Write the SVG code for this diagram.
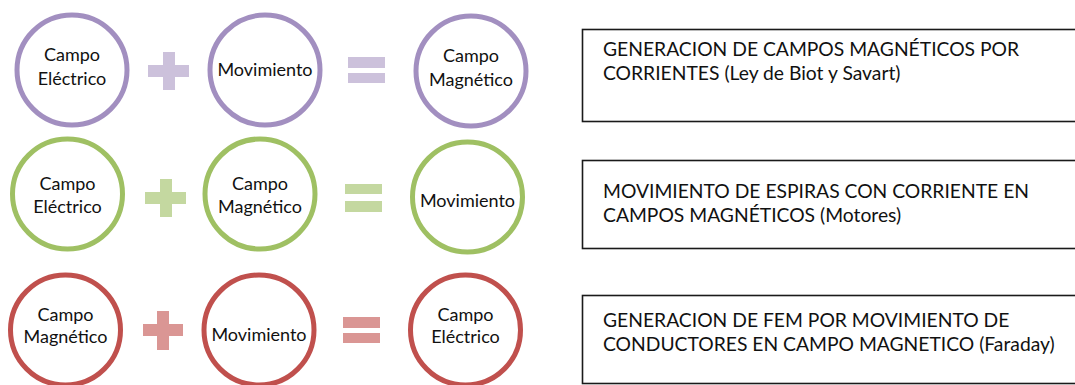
<svg xmlns="http://www.w3.org/2000/svg" width="1075" height="385" viewBox="0 0 1075 385">
<style>
  .c { fill: #ffffff; stroke-width: 5; }
  .pu { stroke: #A28FC0; }
  .gr { stroke: #9FC063; }
  .rd { stroke: #C0504D; }
  .lpu { fill: #CCC1DB; }
  .lgr { fill: #C4D8A0; }
  .lrd { fill: #DA9694; }
  .t { font-family: Lato, "Open Sans", sans-serif; font-size: 18px; fill: #111; text-anchor: middle; }
  .box { fill: #ffffff; stroke: #1a1a1a; stroke-width: 1.6; }
  .bt { font-family: Lato, "Open Sans", sans-serif; font-size: 19.3px; fill: #111; }
</style>
<rect width="1075" height="385" fill="#ffffff"/>

<g id="operators">
  <rect class="lpu" x="148" y="65" width="41" height="12"/>
  <rect class="lpu" x="163" y="52" width="12" height="38"/>
  <rect class="lpu" x="348" y="57" width="37" height="11"/>
  <rect class="lpu" x="348" y="73" width="37" height="10"/>

  <rect class="lgr" x="145" y="192" width="41" height="12"/>
  <rect class="lgr" x="160" y="179" width="12" height="38"/>
  <rect class="lgr" x="345" y="184" width="37" height="10"/>
  <rect class="lgr" x="345" y="201" width="37" height="11"/>

  <rect class="lrd" x="143" y="324" width="40" height="12"/>
  <rect class="lrd" x="157" y="311" width="12" height="39"/>
  <rect class="lrd" x="343" y="317" width="37" height="11"/>
  <rect class="lrd" x="343" y="333" width="37" height="10"/>
</g>

<g id="row1-electrico">
  <circle class="c pu" cx="72" cy="70" r="55"/>
  <text class="t" x="72" y="61">Campo</text>
  <text class="t" x="72" y="85">Eléctrico</text>
</g>
<g id="row1-movimiento">
  <circle class="c pu" cx="265" cy="70" r="55"/>
  <text class="t" x="265" y="76">Movimiento</text>
</g>
<g id="row1-magnetico">
  <circle class="c pu" cx="471" cy="71" r="55"/>
  <text class="t" x="471" y="62">Campo</text>
  <text class="t" x="471" y="86">Magnético</text>
</g>

<g id="row2-electrico">
  <circle class="c gr" cx="67.5" cy="194" r="55"/>
  <text class="t" x="67.5" y="190">Campo</text>
  <text class="t" x="67.5" y="213">Eléctrico</text>
</g>
<g id="row2-magnetico">
  <circle class="c gr" cx="260" cy="194" r="55"/>
  <text class="t" x="260" y="190">Campo</text>
  <text class="t" x="260" y="213">Magnético</text>
</g>
<g id="row2-movimiento">
  <circle class="c gr" cx="467.5" cy="197" r="55"/>
  <text class="t" x="467.5" y="207">Movimiento</text>
</g>

<g id="row3-magnetico">
  <circle class="c rd" cx="65.5" cy="330" r="55"/>
  <text class="t" x="65.5" y="321">Campo</text>
  <text class="t" x="65.5" y="343">Magnético</text>
</g>
<g id="row3-movimiento">
  <circle class="c rd" cx="259" cy="330" r="55"/>
  <text class="t" x="259" y="341">Movimiento</text>
</g>
<g id="row3-electrico">
  <circle class="c rd" cx="465.5" cy="330" r="55"/>
  <text class="t" x="465.5" y="321">Campo</text>
  <text class="t" x="465.5" y="343">Eléctrico</text>
</g>

<g id="box1">
  <rect class="box" x="582.5" y="29.5" width="500" height="92"/>
  <text class="bt" x="603" y="56">GENERACION DE CAMPOS MAGNÉTICOS POR</text>
  <text class="bt" x="603" y="80">CORRIENTES (Ley de Biot y Savart)</text>
</g>
<g id="box2">
  <rect class="box" x="582.5" y="160.5" width="500" height="88"/>
  <text class="bt" x="603" y="198">MOVIMIENTO DE ESPIRAS CON CORRIENTE EN</text>
  <text class="bt" x="603" y="222">CAMPOS MAGNÉTICOS (Motores)</text>
</g>
<g id="box3">
  <rect class="box" x="582.5" y="295.5" width="500" height="88"/>
  <text class="bt" x="603" y="327">GENERACION DE FEM POR MOVIMIENTO DE</text>
  <text class="bt" x="603" y="351">CONDUCTORES EN CAMPO MAGNETICO (Faraday)</text>
</g>
</svg>
